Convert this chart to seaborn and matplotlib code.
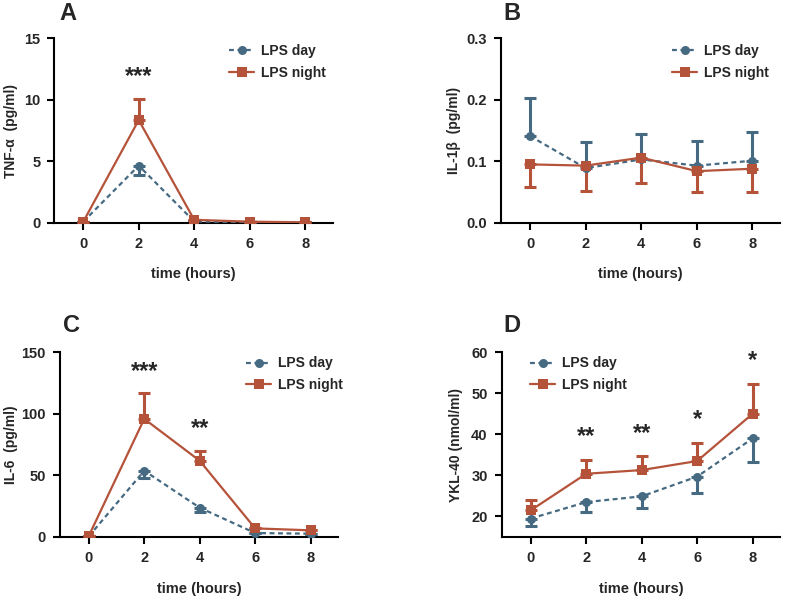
import numpy as np
import pandas as pd
import matplotlib
matplotlib.use("Agg")
import matplotlib.pyplot as plt
import seaborn as sns

# time points (hours)
hours = [0, 2, 4, 6, 8]

# panel A: TNF-alpha (pg/ml)
tnf_day = [0.1, 4.65, 0.12, 0.05, 0.05]
tnf_day_err = [0.0, 0.8, 0.0, 0.0, 0.0]
tnf_night = [0.1, 8.35, 0.25, 0.1, 0.05]
tnf_night_err = [0.0, 1.7, 0.0, 0.0, 0.0]

# panel B: IL-1beta (pg/ml)
il1b_day = [0.141, 0.089, 0.103, 0.093, 0.101]
il1b_day_err = [0.062, 0.043, 0.042, 0.040, 0.047]
il1b_night = [0.095, 0.093, 0.106, 0.084, 0.088]
il1b_night_err = [0.037, 0.041, 0.041, 0.034, 0.038]

# panel C: IL-6 (pg/ml)
il6_day = [0.5, 53.8, 23.8, 3.2, 2.7]
il6_day_err = [0.0, 5.7, 3.5, 0.0, 0.0]
il6_night = [0.8, 95.9, 61.9, 7.0, 5.4]
il6_night_err = [0.0, 21.4, 8.1, 0.0, 0.0]

# panel D: YKL-40 (nmol/ml)
ykl_day = [19.5, 23.5, 24.9, 29.7, 39.0]
ykl_day_err = [1.9, 2.4, 2.9, 3.9, 5.8]
ykl_night = [21.5, 30.4, 31.3, 33.5, 45.0]
ykl_night_err = [2.4, 3.3, 3.5, 4.3, 7.3]

# significance marks: (hour, height, text)
stars_a = [(2, 11.9, "***")]
stars_c = [(2, 134, "***"), (4, 88, "**")]
stars_d = [(2, 39.5, "**"), (4, 40.3, "**"), (6, 43.5, "*"), (8, 58.1, "*")]

day_color = "#466a82"
night_color = "#b5533a"

sns.set_theme(style="ticks")
plt.rcParams["font.family"] = ["Liberation Sans", "DejaVu Sans"]
plt.rcParams["font.weight"] = "bold"

fig = plt.figure(figsize=(7.85, 5.96), dpi=100)

panels = [
    # label, rect, day, err, dir, night, err, dir, ylim, yticks, ylabel, stars,
    # legend anchor, tick format, ylabel x, panel label pos
    ("A", [0.069, 0.626, 0.355, 0.310], tnf_day, tnf_day_err, -1, tnf_night, tnf_night_err, 1,
     (0, 15), [0, 5, 10, 15], "TNF-α  (pg/ml)", stars_a, (0.593, 1.02), "{:g}",
     -0.13, (0.05, 1.135)),
    ("B", [0.638, 0.626, 0.356, 0.310], il1b_day, il1b_day_err, 1, il1b_night, il1b_night_err, -1,
     (0, 0.3), [0.0, 0.1, 0.2, 0.3], "IL-1β  (pg/ml)", [], (0.578, 1.02), "{:.1f}",
     -0.143, (0.04, 1.135)),
    ("C", [0.076, 0.099, 0.355, 0.310], il6_day, il6_day_err, -1, il6_night, il6_night_err, 1,
     (0, 150), [0, 50, 100, 150], "IL-6  (pg/ml)", stars_c, (0.635, 1.03), "{:g}",
     -0.151, (0.043, 1.146)),
    ("D", [0.639, 0.099, 0.355, 0.310], ykl_day, ykl_day_err, -1, ykl_night, ykl_night_err, 1,
     (15, 60), [20, 30, 40, 50, 60], "YKL-40 (nmol/ml)", stars_d, (0.068, 1.03), "{:g}",
     -0.137, (0.036, 1.146)),
]

for (label, rect, day, day_err, day_dir, night, night_err, night_dir,
     ylim, yticks, ylabel, stars, anchor, fmt, ylab_x, lab_pos) in panels:
    ax = fig.add_axes(rect)

    df = pd.DataFrame({
        "time": hours * 2,
        "value": day + night,
        "group": ["LPS day"] * len(hours) + ["LPS night"] * len(hours),
    })

    # one-sided error bars (GraphPad style)
    for vals, errs, direction, color, z in [(day, day_err, day_dir, day_color, 2),
                                           (night, night_err, night_dir, night_color, 3)]:
        errs = np.array(errs)
        zeros = np.zeros_like(errs)
        yerr = [errs, zeros] if direction < 0 else [zeros, errs]
        ax.errorbar(hours, vals, yerr=yerr, fmt="none", ecolor=color,
                    elinewidth=2.2, capsize=4, capthick=2.2, zorder=z)

    sns.lineplot(data=df, x="time", y="value", hue="group", style="group",
                 palette={"LPS day": day_color, "LPS night": night_color},
                 markers={"LPS day": "o", "LPS night": "s"},
                 dashes={"LPS day": (2.2, 1.6), "LPS night": ""},
                 markersize=6.5, markeredgewidth=0, linewidth=1.6,
                 ax=ax, legend=False, zorder=4)

    for x, y, txt in stars:
        ax.text(x, y, txt, ha="center", va="center", fontsize=17, fontweight="bold")

    handles = [
        plt.Line2D([], [], color=day_color, marker="o", linestyle=(0, (2.2, 1.6)),
                   markersize=6.5, markeredgewidth=0, linewidth=1.6),
        plt.Line2D([], [], color=night_color, marker="s", linestyle="-",
                   markersize=6.5, markeredgewidth=0, linewidth=1.6),
    ]
    ax.legend(handles, ["LPS day", "LPS night"], loc="upper left",
              bbox_to_anchor=anchor, frameon=False, handlelength=1.8,
              handletextpad=0.5, labelspacing=0.55, borderpad=0.2,
              prop={"size": 10, "weight": "bold"})

    ax.set_xlim(-1.05, 9.0)
    ax.set_ylim(*ylim)
    ax.set_xticks(hours)
    ax.set_yticks(yticks)
    ax.set_yticklabels([fmt.format(t) for t in yticks])
    ax.set_xlabel("time (hours)", fontsize=10.5, fontweight="bold", labelpad=12)
    ax.set_ylabel(ylabel, fontsize=10, fontweight="bold")
    ax.yaxis.set_label_coords(ylab_x, 0.5)
    ax.tick_params(axis="both", labelsize=10.5, width=1.5, length=5, color="black",
                   pad=5)
    for t in ax.get_xticklabels() + ax.get_yticklabels():
        t.set_fontweight("bold")
    sns.despine(ax=ax)
    for s in ["left", "bottom"]:
        ax.spines[s].set_linewidth(1.5)
        ax.spines[s].set_color("black")

    ax.text(lab_pos[0], lab_pos[1], label, transform=ax.transAxes, fontsize=17,
            fontweight="bold", ha="center", va="center")

fig.savefig("out.png", dpi=100)
